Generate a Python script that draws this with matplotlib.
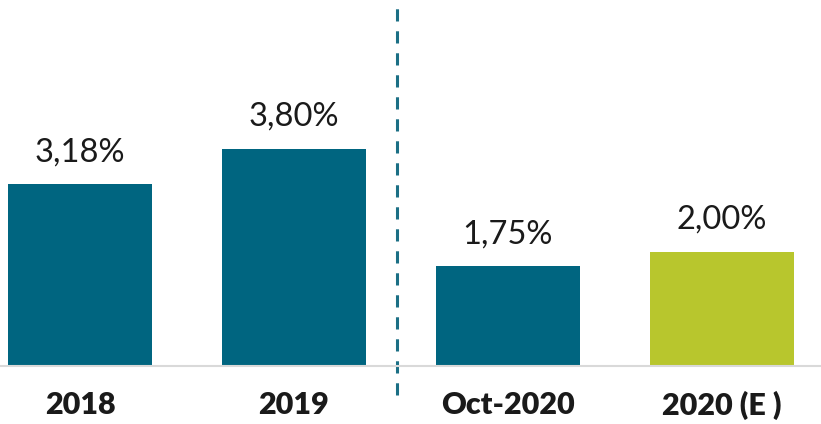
import matplotlib.pyplot as plt

categories = ['2018', '2019', 'Oct-2020', '2020 (E )']
values = [3.18, 3.80, 1.75, 2.00]
value_labels = ['3,18%', '3,80%', '1,75%', '2,00%']
colors = ['#006580', '#006580', '#006580', '#B8C62D']

plt.rcParams['font.family'] = ['Lato', 'DejaVu Sans']

fig = plt.figure(figsize=(8.21, 4.24), dpi=100)
ax = fig.add_axes([0, 58 / 424, 1, 366 / 424])

x = range(len(categories))
bars = ax.bar(x, values, width=0.673, color=colors)

for bar, lab in zip(bars, value_labels):
    ax.annotate(lab, (bar.get_x() + bar.get_width() / 2, bar.get_height()),
                xytext=(0, 12), textcoords='offset points',
                ha='center', va='bottom', fontsize=23.5, color='#1a1a1a')

ax.set_xlim(-0.374, 3.463)
ax.set_ylim(0, 6.4)

ax.set_xticks(list(x))
ax.set_xticklabels(categories, fontsize=22, fontweight='heavy', color='#1a1a1a')
ax.tick_params(axis='x', length=0, pad=18)
ax.set_yticks([])

for s in ['top', 'left', 'right']:
    ax.spines[s].set_visible(False)
ax.spines['bottom'].set_color('#d9d9d9')
ax.spines['bottom'].set_linewidth(1.5)

ax.axvline(1.48, ymin=-0.079, ymax=0.986, color='#1b6f85', linewidth=2.2,
           linestyle=(0, (4, 3.2)), clip_on=False)

fig.savefig('out.png', dpi=100)
